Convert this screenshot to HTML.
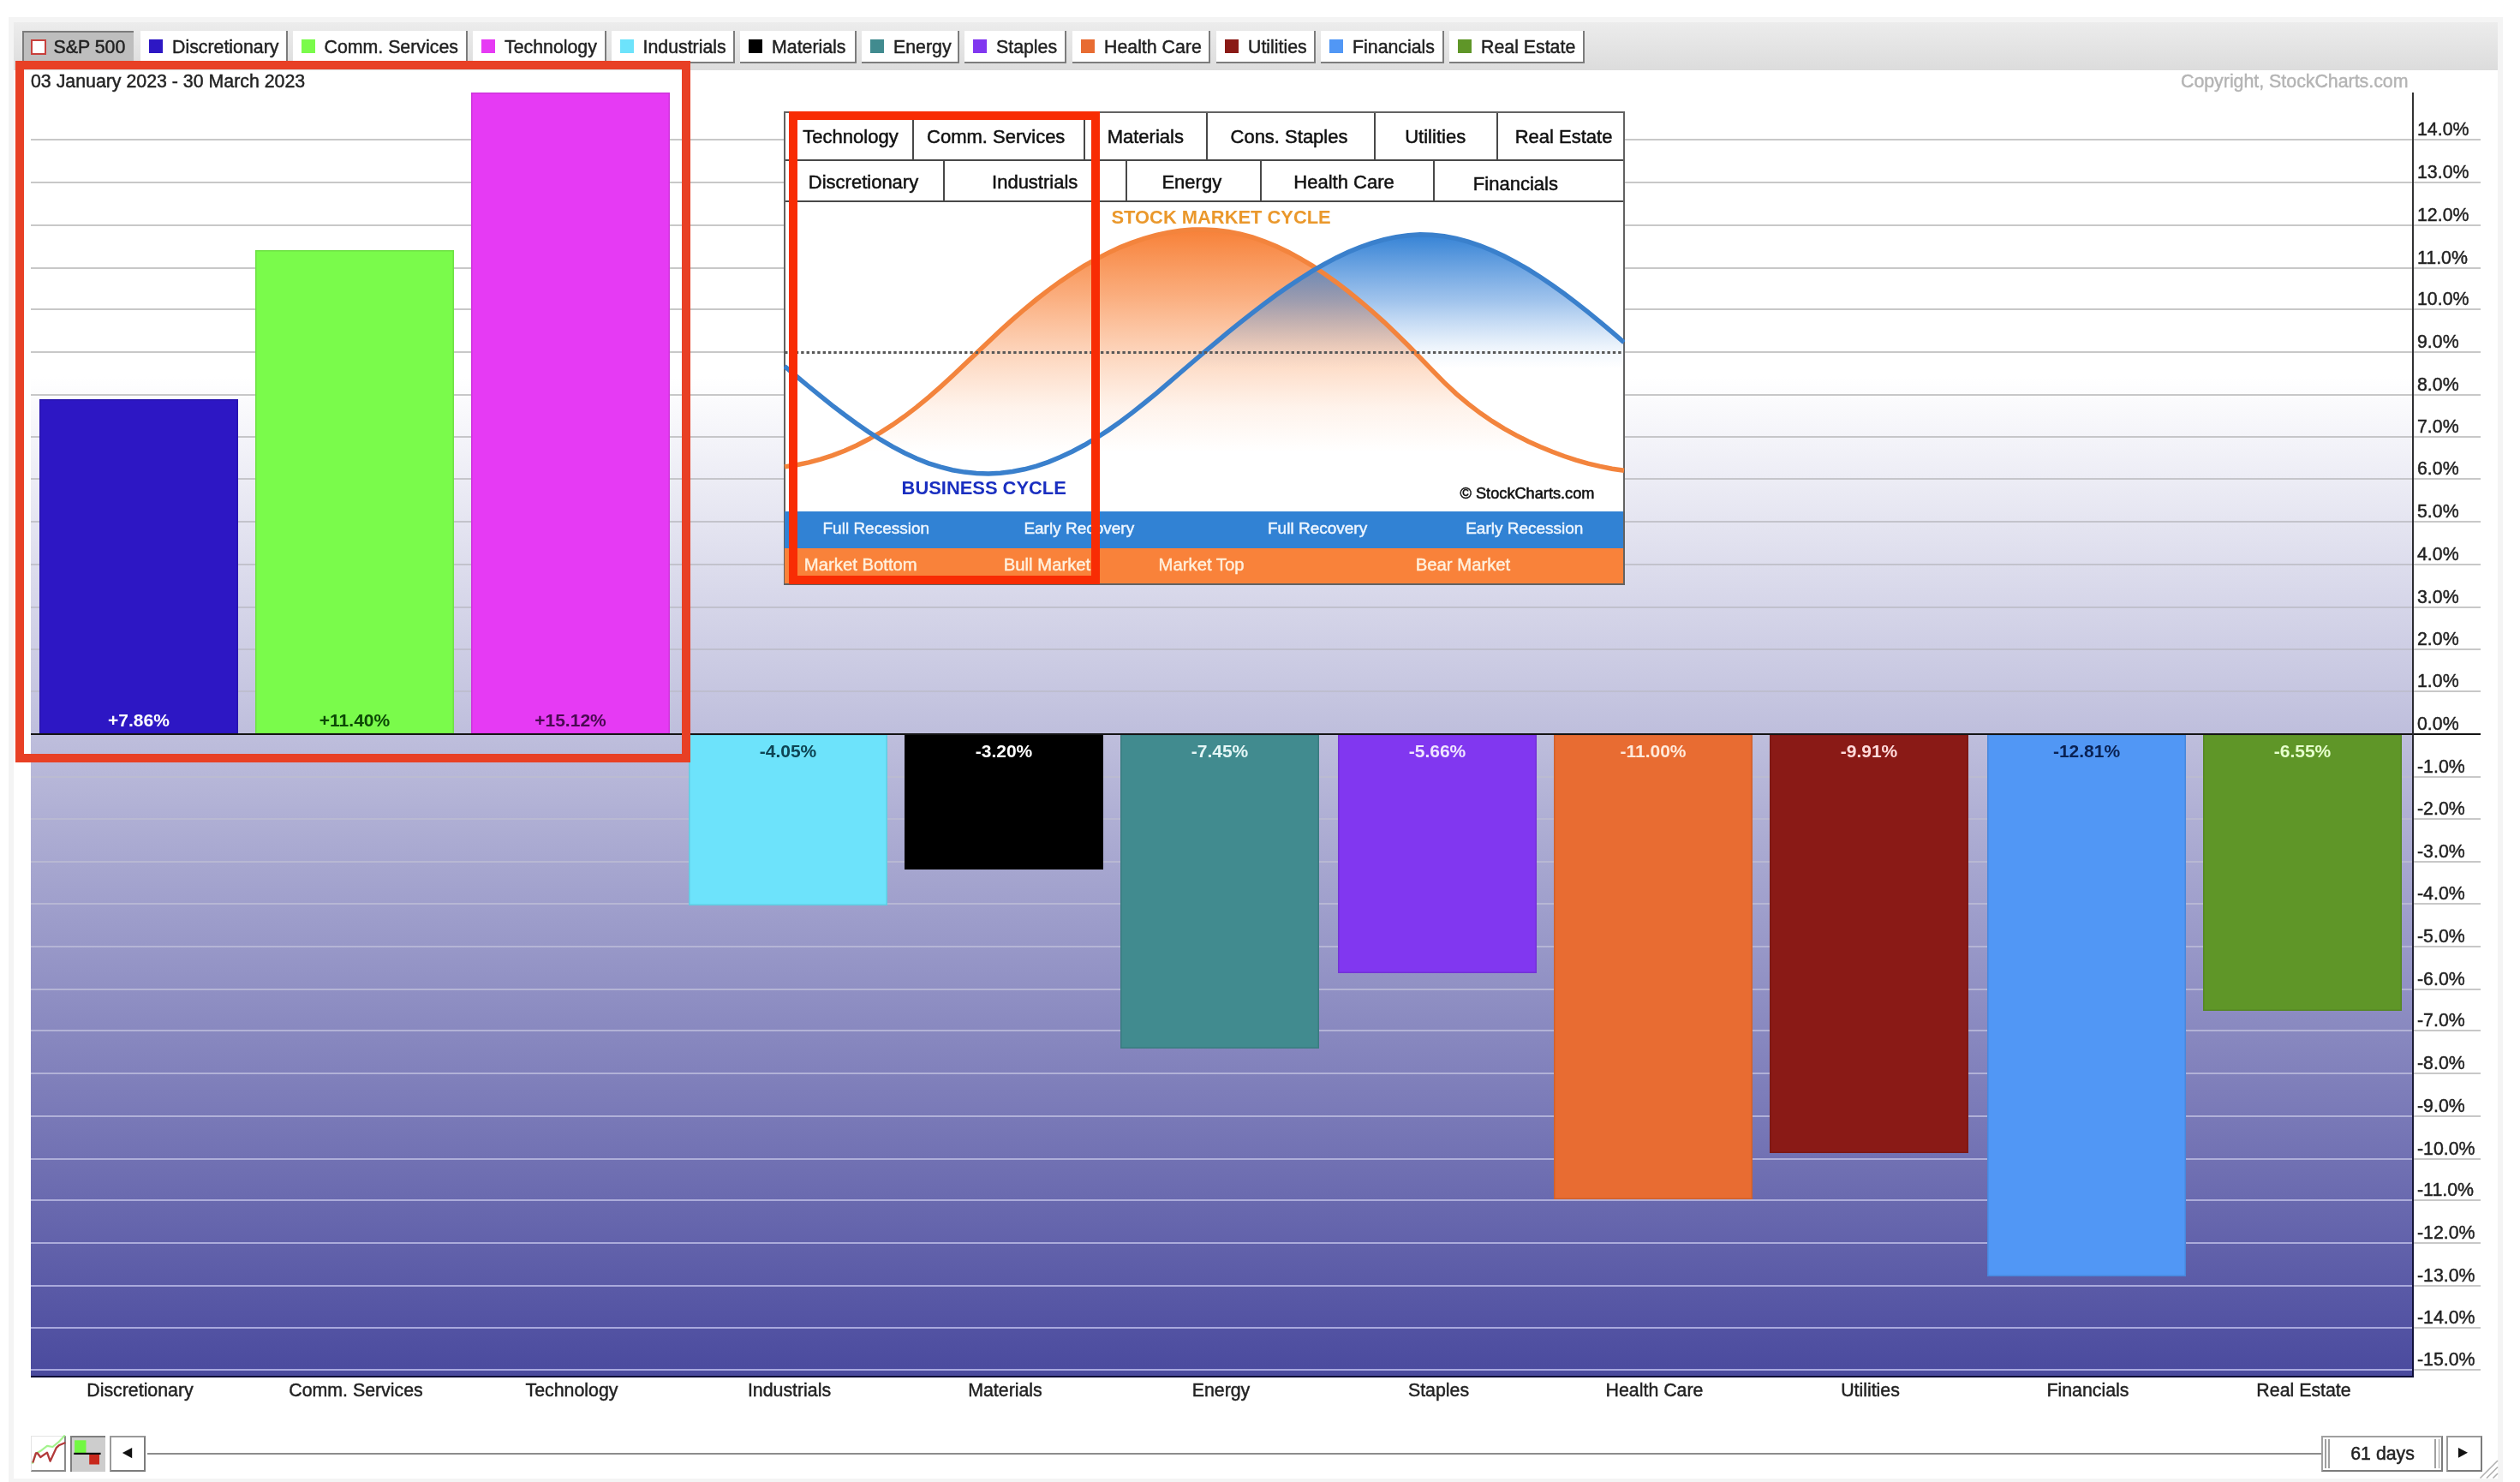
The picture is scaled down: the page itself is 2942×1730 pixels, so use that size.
<!DOCTYPE html>
<html><head><meta charset="utf-8"><title>Sector PerfChart</title>
<style>
html,body{margin:0;padding:0;background:#fff;}
html{width:2942px;height:1730px;overflow:hidden;}
body{width:2942px;height:1730px;position:relative;overflow:hidden;will-change:transform;font-family:"Liberation Sans",sans-serif;}
body>div,body>svg{position:absolute;}
.t{white-space:nowrap;-webkit-text-stroke:0.45px currentColor;}
.lb{box-sizing:border-box;}
</style></head><body>
<div style="left:10px;top:20px;width:2912px;height:1710px;box-sizing:border-box;border:6px solid #f4f4f4;border-bottom-width:4px;background:#fff"></div>
<div style="left:16px;top:26px;width:2900px;height:56px;background:linear-gradient(to bottom,#ececec,#dcdcdc);"></div>
<div class="lb" style="left:26px;top:36px;width:129.5px;height:38px;background:#bebebe;border-top:2px solid #7c7c7c;border-left:2px solid #7c7c7c;"></div>
<div style="left:36px;top:46px;width:18px;height:18px;box-sizing:border-box;border:2px solid #c8403c;background:#fff"></div>
<div class="t" style="top:45.00px;font-size:21.33px;line-height:21.33px;color:#222;left:62.5px;">S&amp;P 500</div>
<div class="lb" style="left:164px;top:36px;width:171.5px;height:38px;background:#fff;border-right:2px solid #7c7c7c;border-bottom:2px solid #7c7c7c;"></div>
<div style="left:174px;top:46px;width:16px;height:16px;background:#2d17c4;"></div>
<div class="t" style="top:45.00px;font-size:21.33px;line-height:21.33px;color:#222;left:201px;">Discretionary</div>
<div class="lb" style="left:341.5px;top:36px;width:204.5px;height:38px;background:#fff;border-right:2px solid #7c7c7c;border-bottom:2px solid #7c7c7c;"></div>
<div style="left:351.5px;top:46px;width:16px;height:16px;background:#7afb4b;"></div>
<div class="t" style="top:45.00px;font-size:21.33px;line-height:21.33px;color:#222;left:378.5px;">Comm. Services</div>
<div class="lb" style="left:552px;top:36px;width:155.5px;height:38px;background:#fff;border-right:2px solid #7c7c7c;border-bottom:2px solid #7c7c7c;"></div>
<div style="left:562px;top:46px;width:16px;height:16px;background:#e63af4;"></div>
<div class="t" style="top:45.00px;font-size:21.33px;line-height:21.33px;color:#222;left:589px;">Technology</div>
<div class="lb" style="left:713.5px;top:36px;width:144.5px;height:38px;background:#fff;border-right:2px solid #7c7c7c;border-bottom:2px solid #7c7c7c;"></div>
<div style="left:723.5px;top:46px;width:16px;height:16px;background:#6de3fb;"></div>
<div class="t" style="top:45.00px;font-size:21.33px;line-height:21.33px;color:#222;left:750.5px;">Industrials</div>
<div class="lb" style="left:864px;top:36px;width:136px;height:38px;background:#fff;border-right:2px solid #7c7c7c;border-bottom:2px solid #7c7c7c;"></div>
<div style="left:874px;top:46px;width:16px;height:16px;background:#000000;"></div>
<div class="t" style="top:45.00px;font-size:21.33px;line-height:21.33px;color:#222;left:901px;">Materials</div>
<div class="lb" style="left:1006px;top:36px;width:113.5px;height:38px;background:#fff;border-right:2px solid #7c7c7c;border-bottom:2px solid #7c7c7c;"></div>
<div style="left:1016px;top:46px;width:16px;height:16px;background:#418b8f;"></div>
<div class="t" style="top:45.00px;font-size:21.33px;line-height:21.33px;color:#222;left:1043px;">Energy</div>
<div class="lb" style="left:1126px;top:36px;width:119px;height:38px;background:#fff;border-right:2px solid #7c7c7c;border-bottom:2px solid #7c7c7c;"></div>
<div style="left:1136px;top:46px;width:16px;height:16px;background:#8137f0;"></div>
<div class="t" style="top:45.00px;font-size:21.33px;line-height:21.33px;color:#222;left:1163px;">Staples</div>
<div class="lb" style="left:1252px;top:36px;width:161px;height:38px;background:#fff;border-right:2px solid #7c7c7c;border-bottom:2px solid #7c7c7c;"></div>
<div style="left:1262px;top:46px;width:16px;height:16px;background:#e86c32;"></div>
<div class="t" style="top:45.00px;font-size:21.33px;line-height:21.33px;color:#222;left:1289px;">Health Care</div>
<div class="lb" style="left:1420px;top:36px;width:116px;height:38px;background:#fff;border-right:2px solid #7c7c7c;border-bottom:2px solid #7c7c7c;"></div>
<div style="left:1430px;top:46px;width:16px;height:16px;background:#8a1a16;"></div>
<div class="t" style="top:45.00px;font-size:21.33px;line-height:21.33px;color:#222;left:1457px;">Utilities</div>
<div class="lb" style="left:1542px;top:36px;width:144px;height:38px;background:#fff;border-right:2px solid #7c7c7c;border-bottom:2px solid #7c7c7c;"></div>
<div style="left:1552px;top:46px;width:16px;height:16px;background:#5197f5;"></div>
<div class="t" style="top:45.00px;font-size:21.33px;line-height:21.33px;color:#222;left:1579px;">Financials</div>
<div class="lb" style="left:1692px;top:36px;width:158px;height:38px;background:#fff;border-right:2px solid #7c7c7c;border-bottom:2px solid #7c7c7c;"></div>
<div style="left:1702px;top:46px;width:16px;height:16px;background:#5f9628;"></div>
<div class="t" style="top:45.00px;font-size:21.33px;line-height:21.33px;color:#222;left:1729px;">Real Estate</div>
<div class="t" style="top:85.00px;font-size:21.33px;line-height:21.33px;color:#222;left:36px;">03 January 2023 - 30 March 2023</div>
<div class="t" style="top:85.00px;font-size:21.33px;line-height:21.33px;color:#b4b4b4;right:130.5px;">Copyright, StockCharts.com</div>
<div style="left:36px;top:108px;width:2780px;height:1498px;background:linear-gradient(to bottom,#fff 0,#fff 332px,#4a4a9e 100%);"></div>
<div style="left:36px;top:1598px;width:2780px;height:2px;background:rgb(167,167,222);"></div>
<div style="left:2818px;top:1598px;width:78px;height:2px;background:#c8c8c8;"></div>
<div style="left:36px;top:1549px;width:2780px;height:2px;background:rgb(169,169,221);"></div>
<div style="left:2818px;top:1549px;width:78px;height:2px;background:#c8c8c8;"></div>
<div style="left:36px;top:1500px;width:2780px;height:2px;background:rgb(170,170,220);"></div>
<div style="left:2818px;top:1500px;width:78px;height:2px;background:#c8c8c8;"></div>
<div style="left:36px;top:1450px;width:2780px;height:2px;background:rgb(171,171,219);"></div>
<div style="left:2818px;top:1450px;width:78px;height:2px;background:#c8c8c8;"></div>
<div style="left:36px;top:1400px;width:2780px;height:2px;background:rgb(173,173,218);"></div>
<div style="left:2818px;top:1400px;width:78px;height:2px;background:#c8c8c8;"></div>
<div style="left:36px;top:1352px;width:2780px;height:2px;background:rgb(174,174,217);"></div>
<div style="left:2818px;top:1352px;width:78px;height:2px;background:#c8c8c8;"></div>
<div style="left:36px;top:1302px;width:2780px;height:2px;background:rgb(176,176,216);"></div>
<div style="left:2818px;top:1302px;width:78px;height:2px;background:#c8c8c8;"></div>
<div style="left:36px;top:1252px;width:2780px;height:2px;background:rgb(177,177,215);"></div>
<div style="left:2818px;top:1252px;width:78px;height:2px;background:#c8c8c8;"></div>
<div style="left:36px;top:1202px;width:2780px;height:2px;background:rgb(178,178,214);"></div>
<div style="left:2818px;top:1202px;width:78px;height:2px;background:#c8c8c8;"></div>
<div style="left:36px;top:1154px;width:2780px;height:2px;background:rgb(180,180,213);"></div>
<div style="left:2818px;top:1154px;width:78px;height:2px;background:#c8c8c8;"></div>
<div style="left:36px;top:1104px;width:2780px;height:2px;background:rgb(181,181,213);"></div>
<div style="left:2818px;top:1104px;width:78px;height:2px;background:#c8c8c8;"></div>
<div style="left:36px;top:1054px;width:2780px;height:2px;background:rgb(183,183,212);"></div>
<div style="left:2818px;top:1054px;width:78px;height:2px;background:#c8c8c8;"></div>
<div style="left:36px;top:1005px;width:2780px;height:2px;background:rgb(184,184,211);"></div>
<div style="left:2818px;top:1005px;width:78px;height:2px;background:#c8c8c8;"></div>
<div style="left:36px;top:955px;width:2780px;height:2px;background:rgb(185,185,210);"></div>
<div style="left:2818px;top:955px;width:78px;height:2px;background:#c8c8c8;"></div>
<div style="left:36px;top:906px;width:2780px;height:2px;background:rgb(187,187,209);"></div>
<div style="left:2818px;top:906px;width:78px;height:2px;background:#c8c8c8;"></div>
<div style="left:36px;top:806px;width:2780px;height:2px;background:rgb(190,190,207);"></div>
<div style="left:2818px;top:806px;width:78px;height:2px;background:#c8c8c8;"></div>
<div style="left:36px;top:757px;width:2780px;height:2px;background:rgb(191,191,206);"></div>
<div style="left:2818px;top:757px;width:78px;height:2px;background:#c8c8c8;"></div>
<div style="left:36px;top:708px;width:2780px;height:2px;background:rgb(192,192,205);"></div>
<div style="left:2818px;top:708px;width:78px;height:2px;background:#c8c8c8;"></div>
<div style="left:36px;top:658px;width:2780px;height:2px;background:rgb(194,194,204);"></div>
<div style="left:2818px;top:658px;width:78px;height:2px;background:#c8c8c8;"></div>
<div style="left:36px;top:608px;width:2780px;height:2px;background:rgb(195,195,203);"></div>
<div style="left:2818px;top:608px;width:78px;height:2px;background:#c8c8c8;"></div>
<div style="left:36px;top:558px;width:2780px;height:2px;background:rgb(197,197,202);"></div>
<div style="left:2818px;top:558px;width:78px;height:2px;background:#c8c8c8;"></div>
<div style="left:36px;top:509px;width:2780px;height:2px;background:rgb(198,198,201);"></div>
<div style="left:2818px;top:509px;width:78px;height:2px;background:#c8c8c8;"></div>
<div style="left:36px;top:460px;width:2780px;height:2px;background:rgb(199,199,200);"></div>
<div style="left:2818px;top:460px;width:78px;height:2px;background:#c8c8c8;"></div>
<div style="left:36px;top:410px;width:2780px;height:2px;background:rgb(200,200,200);"></div>
<div style="left:2818px;top:410px;width:78px;height:2px;background:#c8c8c8;"></div>
<div style="left:36px;top:360px;width:2780px;height:2px;background:rgb(200,200,200);"></div>
<div style="left:2818px;top:360px;width:78px;height:2px;background:#c8c8c8;"></div>
<div style="left:36px;top:312px;width:2780px;height:2px;background:rgb(200,200,200);"></div>
<div style="left:2818px;top:312px;width:78px;height:2px;background:#c8c8c8;"></div>
<div style="left:36px;top:262px;width:2780px;height:2px;background:rgb(200,200,200);"></div>
<div style="left:2818px;top:262px;width:78px;height:2px;background:#c8c8c8;"></div>
<div style="left:36px;top:212px;width:2780px;height:2px;background:rgb(200,200,200);"></div>
<div style="left:2818px;top:212px;width:78px;height:2px;background:#c8c8c8;"></div>
<div style="left:36px;top:162px;width:2780px;height:2px;background:rgb(200,200,200);"></div>
<div style="left:2818px;top:162px;width:78px;height:2px;background:#c8c8c8;"></div>
<div style="left:46px;top:466px;width:232px;height:391px;background:#2d17c4;box-shadow:inset 0 0 0 1.5px rgba(0,0,0,.10);"></div>
<div class="t" style="top:830.00px;font-size:21px;line-height:21px;color:#ffffff;font-weight:bold;left:162px;transform:translateX(-50%);-webkit-text-stroke:0;">+7.86%</div>
<div class="t" style="top:1613.00px;font-size:21.33px;line-height:21.33px;color:#222;left:163.5px;transform:translateX(-50%);">Discretionary</div>
<div style="left:298px;top:292px;width:232px;height:565px;background:#7afb4b;box-shadow:inset 0 0 0 1.5px rgba(0,0,0,.10);"></div>
<div class="t" style="top:830.00px;font-size:21px;line-height:21px;color:#0c4a05;font-weight:bold;left:414px;transform:translateX(-50%);-webkit-text-stroke:0;">+11.40%</div>
<div class="t" style="top:1613.00px;font-size:21.33px;line-height:21.33px;color:#222;left:415.5px;transform:translateX(-50%);">Comm. Services</div>
<div style="left:550px;top:108px;width:232px;height:749px;background:#e63af4;box-shadow:inset 0 0 0 1.5px rgba(0,0,0,.10);"></div>
<div class="t" style="top:830.00px;font-size:21px;line-height:21px;color:#4a0a52;font-weight:bold;left:666px;transform:translateX(-50%);-webkit-text-stroke:0;">+15.12%</div>
<div class="t" style="top:1613.00px;font-size:21.33px;line-height:21.33px;color:#222;left:667.5px;transform:translateX(-50%);">Technology</div>
<div style="left:804px;top:857px;width:232px;height:200px;background:#6de3fb;box-shadow:inset 0 0 0 1.5px rgba(0,0,0,.10);"></div>
<div class="t" style="top:866.00px;font-size:21px;line-height:21px;color:#0e4454;font-weight:bold;left:920px;transform:translateX(-50%);-webkit-text-stroke:0;">-4.05%</div>
<div class="t" style="top:1613.00px;font-size:21.33px;line-height:21.33px;color:#222;left:921.5px;transform:translateX(-50%);">Industrials</div>
<div style="left:1056px;top:857px;width:232px;height:158px;background:#000000;box-shadow:inset 0 0 0 1.5px rgba(0,0,0,.10);"></div>
<div class="t" style="top:866.00px;font-size:21px;line-height:21px;color:#ffffff;font-weight:bold;left:1172px;transform:translateX(-50%);-webkit-text-stroke:0;">-3.20%</div>
<div class="t" style="top:1613.00px;font-size:21.33px;line-height:21.33px;color:#222;left:1173.5px;transform:translateX(-50%);">Materials</div>
<div style="left:1308px;top:857px;width:232px;height:367px;background:#418b8f;box-shadow:inset 0 0 0 1.5px rgba(0,0,0,.10);"></div>
<div class="t" style="top:866.00px;font-size:21px;line-height:21px;color:#e4f6f6;font-weight:bold;left:1424px;transform:translateX(-50%);-webkit-text-stroke:0;">-7.45%</div>
<div class="t" style="top:1613.00px;font-size:21.33px;line-height:21.33px;color:#222;left:1425.5px;transform:translateX(-50%);">Energy</div>
<div style="left:1562px;top:857px;width:232px;height:279px;background:#8137f0;box-shadow:inset 0 0 0 1.5px rgba(0,0,0,.10);"></div>
<div class="t" style="top:866.00px;font-size:21px;line-height:21px;color:#efe4ff;font-weight:bold;left:1678px;transform:translateX(-50%);-webkit-text-stroke:0;">-5.66%</div>
<div class="t" style="top:1613.00px;font-size:21.33px;line-height:21.33px;color:#222;left:1679.5px;transform:translateX(-50%);">Staples</div>
<div style="left:1814px;top:857px;width:232px;height:543px;background:#e86c32;box-shadow:inset 0 0 0 1.5px rgba(0,0,0,.10);"></div>
<div class="t" style="top:866.00px;font-size:21px;line-height:21px;color:#ffe9da;font-weight:bold;left:1930px;transform:translateX(-50%);-webkit-text-stroke:0;">-11.00%</div>
<div class="t" style="top:1613.00px;font-size:21.33px;line-height:21.33px;color:#222;left:1931.5px;transform:translateX(-50%);">Health Care</div>
<div style="left:2066px;top:857px;width:232px;height:489px;background:#8a1a16;box-shadow:inset 0 0 0 1.5px rgba(0,0,0,.10);"></div>
<div class="t" style="top:866.00px;font-size:21px;line-height:21px;color:#ffdada;font-weight:bold;left:2182px;transform:translateX(-50%);-webkit-text-stroke:0;">-9.91%</div>
<div class="t" style="top:1613.00px;font-size:21.33px;line-height:21.33px;color:#222;left:2183.5px;transform:translateX(-50%);">Utilities</div>
<div style="left:2320px;top:857px;width:232px;height:633px;background:#5197f5;box-shadow:inset 0 0 0 1.5px rgba(0,0,0,.10);"></div>
<div class="t" style="top:866.00px;font-size:21px;line-height:21px;color:#0a2254;font-weight:bold;left:2436px;transform:translateX(-50%);-webkit-text-stroke:0;">-12.81%</div>
<div class="t" style="top:1613.00px;font-size:21.33px;line-height:21.33px;color:#222;left:2437.5px;transform:translateX(-50%);">Financials</div>
<div style="left:2572px;top:857px;width:232px;height:323px;background:#5f9628;box-shadow:inset 0 0 0 1.5px rgba(0,0,0,.10);"></div>
<div class="t" style="top:866.00px;font-size:21px;line-height:21px;color:#e6ffcc;font-weight:bold;left:2688px;transform:translateX(-50%);-webkit-text-stroke:0;">-6.55%</div>
<div class="t" style="top:1613.00px;font-size:21.33px;line-height:21.33px;color:#222;left:2689.5px;transform:translateX(-50%);">Real Estate</div>
<div style="left:36px;top:856px;width:2860px;height:2px;background:#141414;"></div>
<div style="left:2816px;top:108px;width:2px;height:1500px;background:linear-gradient(to bottom,#333 0,#2a2a30 50%,#10103a 100%);"></div>
<div style="left:36px;top:1606px;width:2782px;height:2px;background:#0e0e36;"></div>
<div class="t" style="top:1577.00px;font-size:21.33px;line-height:21.33px;color:#222;left:2822px;">-15.0%</div>
<div class="t" style="top:1528.00px;font-size:21.33px;line-height:21.33px;color:#222;left:2822px;">-14.0%</div>
<div class="t" style="top:1479.00px;font-size:21.33px;line-height:21.33px;color:#222;left:2822px;">-13.0%</div>
<div class="t" style="top:1429.00px;font-size:21.33px;line-height:21.33px;color:#222;left:2822px;">-12.0%</div>
<div class="t" style="top:1379.00px;font-size:21.33px;line-height:21.33px;color:#222;left:2822px;">-11.0%</div>
<div class="t" style="top:1331.00px;font-size:21.33px;line-height:21.33px;color:#222;left:2822px;">-10.0%</div>
<div class="t" style="top:1281.00px;font-size:21.33px;line-height:21.33px;color:#222;left:2822px;">-9.0%</div>
<div class="t" style="top:1231.00px;font-size:21.33px;line-height:21.33px;color:#222;left:2822px;">-8.0%</div>
<div class="t" style="top:1181.00px;font-size:21.33px;line-height:21.33px;color:#222;left:2822px;">-7.0%</div>
<div class="t" style="top:1133.00px;font-size:21.33px;line-height:21.33px;color:#222;left:2822px;">-6.0%</div>
<div class="t" style="top:1083.00px;font-size:21.33px;line-height:21.33px;color:#222;left:2822px;">-5.0%</div>
<div class="t" style="top:1033.00px;font-size:21.33px;line-height:21.33px;color:#222;left:2822px;">-4.0%</div>
<div class="t" style="top:984.00px;font-size:21.33px;line-height:21.33px;color:#222;left:2822px;">-3.0%</div>
<div class="t" style="top:934.00px;font-size:21.33px;line-height:21.33px;color:#222;left:2822px;">-2.0%</div>
<div class="t" style="top:885.00px;font-size:21.33px;line-height:21.33px;color:#222;left:2822px;">-1.0%</div>
<div class="t" style="top:835.00px;font-size:21.33px;line-height:21.33px;color:#222;left:2822px;">0.0%</div>
<div class="t" style="top:785.00px;font-size:21.33px;line-height:21.33px;color:#222;left:2822px;">1.0%</div>
<div class="t" style="top:736.00px;font-size:21.33px;line-height:21.33px;color:#222;left:2822px;">2.0%</div>
<div class="t" style="top:687.00px;font-size:21.33px;line-height:21.33px;color:#222;left:2822px;">3.0%</div>
<div class="t" style="top:637.00px;font-size:21.33px;line-height:21.33px;color:#222;left:2822px;">4.0%</div>
<div class="t" style="top:587.00px;font-size:21.33px;line-height:21.33px;color:#222;left:2822px;">5.0%</div>
<div class="t" style="top:537.00px;font-size:21.33px;line-height:21.33px;color:#222;left:2822px;">6.0%</div>
<div class="t" style="top:488.00px;font-size:21.33px;line-height:21.33px;color:#222;left:2822px;">7.0%</div>
<div class="t" style="top:439.00px;font-size:21.33px;line-height:21.33px;color:#222;left:2822px;">8.0%</div>
<div class="t" style="top:389.00px;font-size:21.33px;line-height:21.33px;color:#222;left:2822px;">9.0%</div>
<div class="t" style="top:339.00px;font-size:21.33px;line-height:21.33px;color:#222;left:2822px;">10.0%</div>
<div class="t" style="top:291.00px;font-size:21.33px;line-height:21.33px;color:#222;left:2822px;">11.0%</div>
<div class="t" style="top:241.00px;font-size:21.33px;line-height:21.33px;color:#222;left:2822px;">12.0%</div>
<div class="t" style="top:191.00px;font-size:21.33px;line-height:21.33px;color:#222;left:2822px;">13.0%</div>
<div class="t" style="top:141.00px;font-size:21.33px;line-height:21.33px;color:#222;left:2822px;">14.0%</div>
<div class="lb" style="left:36px;top:1676px;width:41.4px;height:42px;background:#fff;border-right:2px solid #8a8a8a;border-bottom:2px solid #8a8a8a;border-top:1px solid #e4e4e4;border-left:1px solid #e4e4e4"></div>
<div class="lb" style="left:82px;top:1676px;width:41.3px;height:42px;background:#cdcdcd;border-top:2px solid #7f7f7f;border-left:2px solid #7f7f7f;"></div>
<div class="lb" style="left:128.3px;top:1676px;width:41.4px;height:42px;background:#fff;border:2px solid #9a9a9a;border-right-color:#7c7c7c;border-bottom-color:#7c7c7c"></div>
<div style="left:172px;top:1696px;width:2539px;height:2px;background:#8c8c8c;"></div>
<div class="lb" style="left:2710.4px;top:1676px;width:141.3px;height:42px;background:#fff;border:2px solid #a0a0a0;border-right-color:#7c7c7c;border-bottom-color:#7c7c7c"></div>
<div style="left:2714.2px;top:1680px;width:1.4px;height:34px;background:#a0a0a0;"></div>
<div style="left:2718.4px;top:1680px;width:1.4px;height:34px;background:#a0a0a0;"></div>
<div style="left:2842.4px;top:1680px;width:1.4px;height:34px;background:#a0a0a0;"></div>
<div style="left:2846.8px;top:1680px;width:1.4px;height:34px;background:#a0a0a0;"></div>
<div class="t" style="top:1687.00px;font-size:21.33px;line-height:21.33px;color:#222;left:2781.6px;transform:translateX(-50%);">61 days</div>
<div class="lb" style="left:2856.3px;top:1676px;width:41.3px;height:42px;background:#fff;border:2px solid #9a9a9a;border-right-color:#7c7c7c;border-bottom-color:#7c7c7c"></div>
<svg style="left:0;top:1660px" width="2942" height="70" viewBox="0 1660 2942 70">
<polyline points="37.7,1708.7 41.9,1696.8 47.3,1693.8 55,1687.9 61.5,1689 68.1,1683.7 75.8,1675.4" fill="none" stroke="#8cf070" stroke-opacity="0.8" stroke-width="2.2" stroke-linejoin="round"/>
<polyline points="38.3,1707.5 41.9,1696.4 43.6,1696.2 47.3,1701 55,1695.6 58.6,1705.7 65.7,1690.2 68.7,1687.3 76.4,1684" fill="none" stroke="#b23a3a" stroke-width="2.3" stroke-linejoin="round"/>
<rect x="87.1" y="1681.3" width="13.4" height="14.7" fill="#72f842"/>
<rect x="86.2" y="1695.8" width="31.4" height="2.2" fill="#111"/>
<rect x="104.2" y="1698" width="11.8" height="11.5" fill="#c8281c"/>
<polygon points="142.9,1696.1 154.2,1689.9 154.2,1702.3" fill="#111"/>
<polygon points="2881,1695.8 2870,1690 2870,1701.7" fill="#111"/>
<g stroke="#b0b0b0" stroke-width="1.6">
<line x1="2895.5" y1="1725.5" x2="2916" y2="1705"/>
<line x1="2903" y1="1725.5" x2="2916" y2="1712.5"/>
<line x1="2910.5" y1="1725.5" x2="2916" y2="1720"/>
</g>
</svg>
<div style="left:18px;top:71px;width:788px;height:819px;box-sizing:border-box;border:10px solid #e84025;"></div>
<div style="left:915px;top:130px;width:982px;height:553px;box-sizing:border-box;border:2px solid #626262;background:#fff"></div>
<svg style="left:915px;top:130px" width="982" height="553" viewBox="915 130 982 553">
<defs>
<linearGradient id="go" gradientUnits="userSpaceOnUse" x1="0" y1="267.9" x2="0" y2="528">
<stop offset="0" stop-color="#f77d32" stop-opacity="0.97"/><stop offset="0.3" stop-color="#f8843c" stop-opacity="0.66"/><stop offset="0.56" stop-color="#f98c48" stop-opacity="0.36"/><stop offset="0.8" stop-color="#fb9a5a" stop-opacity="0.12"/><stop offset="1" stop-color="#fb9a5a" stop-opacity="0"/>
</linearGradient>
<linearGradient id="gb" gradientUnits="userSpaceOnUse" x1="0" y1="273.8" x2="0" y2="430">
<stop offset="0" stop-color="#2f7fd4" stop-opacity="0.97"/><stop offset="0.5" stop-color="#4389da" stop-opacity="0.5"/><stop offset="0.85" stop-color="#5a9ae2" stop-opacity="0.1"/><stop offset="1" stop-color="#6aa5e6" stop-opacity="0"/>
</linearGradient>
</defs>
<path d="M916.0,544.9 L930.0,542.8 L944.0,539.9 L958.0,536.2 L972.0,531.6 L986.0,526.2 L1000.0,519.9 L1014.0,512.8 L1028.0,504.8 L1042.0,495.9 L1056.0,486.1 L1070.0,475.4 L1084.0,463.9 L1098.0,451.6 L1112.0,438.8 L1126.0,425.6 L1140.0,412.3 L1154.0,398.9 L1168.0,385.8 L1182.0,373.1 L1196.0,361.0 L1210.0,349.5 L1224.0,338.6 L1238.0,328.4 L1252.0,319.0 L1266.0,310.2 L1280.0,302.3 L1294.0,295.1 L1308.0,288.6 L1322.0,283.1 L1336.0,278.3 L1350.0,274.4 L1364.0,271.4 L1378.0,269.3 L1392.0,268.1 L1406.0,267.9 L1420.0,268.7 L1434.0,270.4 L1448.0,273.2 L1462.0,277.0 L1476.0,281.8 L1490.0,287.5 L1504.0,294.2 L1518.0,301.8 L1532.0,310.2 L1546.0,319.4 L1560.0,329.4 L1574.0,340.1 L1588.0,351.5 L1602.0,363.5 L1616.0,376.1 L1630.0,389.4 L1644.0,403.2 L1658.0,417.6 L1672.0,432.2 L1686.0,446.4 L1700.0,459.6 L1714.0,471.4 L1728.0,482.1 L1742.0,491.7 L1756.0,500.4 L1770.0,508.1 L1784.0,515.2 L1798.0,521.5 L1812.0,527.3 L1826.0,532.5 L1840.0,537.1 L1854.0,541.1 L1868.0,544.4 L1882.0,547.2 L1896.0,549.3 L1895,597 L917,597 Z" fill="url(#go)"/>
<path d="M916.0,427.6 L930.0,439.4 L944.0,451.0 L958.0,462.4 L972.0,473.6 L986.0,484.3 L1000.0,494.5 L1014.0,504.2 L1028.0,513.2 L1042.0,521.4 L1056.0,528.8 L1070.0,535.3 L1084.0,540.8 L1098.0,545.2 L1112.0,548.7 L1126.0,551.1 L1140.0,552.5 L1154.0,552.9 L1168.0,552.2 L1182.0,550.5 L1196.0,547.8 L1210.0,544.1 L1224.0,539.3 L1238.0,533.6 L1252.0,527.0 L1266.0,519.5 L1280.0,511.2 L1294.0,502.1 L1308.0,492.3 L1322.0,481.7 L1336.0,470.5 L1350.0,459.0 L1364.0,447.1 L1378.0,435.0 L1392.0,423.0 L1406.0,411.0 L1420.0,399.3 L1434.0,387.7 L1448.0,376.4 L1462.0,365.3 L1476.0,354.6 L1490.0,344.3 L1504.0,334.5 L1518.0,325.2 L1532.0,316.4 L1546.0,308.3 L1560.0,300.9 L1574.0,294.3 L1588.0,288.5 L1602.0,283.6 L1616.0,279.6 L1630.0,276.6 L1644.0,274.7 L1658.0,273.8 L1672.0,274.2 L1686.0,275.7 L1700.0,278.4 L1714.0,282.1 L1728.0,286.8 L1742.0,292.4 L1756.0,299.0 L1770.0,306.3 L1784.0,314.4 L1798.0,323.2 L1812.0,332.7 L1826.0,342.7 L1840.0,353.3 L1854.0,364.4 L1868.0,375.8 L1882.0,387.6 L1896.0,399.7 L1895,597 L917,597 Z" fill="url(#gb)"/>
<path d="M916.0,544.9 L930.0,542.8 L944.0,539.9 L958.0,536.2 L972.0,531.6 L986.0,526.2 L1000.0,519.9 L1014.0,512.8 L1028.0,504.8 L1042.0,495.9 L1056.0,486.1 L1070.0,475.4 L1084.0,463.9 L1098.0,451.6 L1112.0,438.8 L1126.0,425.6 L1140.0,412.3 L1154.0,398.9 L1168.0,385.8 L1182.0,373.1 L1196.0,361.0 L1210.0,349.5 L1224.0,338.6 L1238.0,328.4 L1252.0,319.0 L1266.0,310.2 L1280.0,302.3 L1294.0,295.1 L1308.0,288.6 L1322.0,283.1 L1336.0,278.3 L1350.0,274.4 L1364.0,271.4 L1378.0,269.3 L1392.0,268.1 L1406.0,267.9 L1420.0,268.7 L1434.0,270.4 L1448.0,273.2 L1462.0,277.0 L1476.0,281.8 L1490.0,287.5 L1504.0,294.2 L1518.0,301.8 L1532.0,310.2 L1546.0,319.4 L1560.0,329.4 L1574.0,340.1 L1588.0,351.5 L1602.0,363.5 L1616.0,376.1 L1630.0,389.4 L1644.0,403.2 L1658.0,417.6 L1672.0,432.2 L1686.0,446.4 L1700.0,459.6 L1714.0,471.4 L1728.0,482.1 L1742.0,491.7 L1756.0,500.4 L1770.0,508.1 L1784.0,515.2 L1798.0,521.5 L1812.0,527.3 L1826.0,532.5 L1840.0,537.1 L1854.0,541.1 L1868.0,544.4 L1882.0,547.2 L1896.0,549.3" fill="none" stroke="#f3843d" stroke-width="5.5"/>
<path d="M916.0,427.6 L930.0,439.4 L944.0,451.0 L958.0,462.4 L972.0,473.6 L986.0,484.3 L1000.0,494.5 L1014.0,504.2 L1028.0,513.2 L1042.0,521.4 L1056.0,528.8 L1070.0,535.3 L1084.0,540.8 L1098.0,545.2 L1112.0,548.7 L1126.0,551.1 L1140.0,552.5 L1154.0,552.9 L1168.0,552.2 L1182.0,550.5 L1196.0,547.8 L1210.0,544.1 L1224.0,539.3 L1238.0,533.6 L1252.0,527.0 L1266.0,519.5 L1280.0,511.2 L1294.0,502.1 L1308.0,492.3 L1322.0,481.7 L1336.0,470.5 L1350.0,459.0 L1364.0,447.1 L1378.0,435.0 L1392.0,423.0 L1406.0,411.0 L1420.0,399.3 L1434.0,387.7 L1448.0,376.4 L1462.0,365.3 L1476.0,354.6 L1490.0,344.3 L1504.0,334.5 L1518.0,325.2 L1532.0,316.4 L1546.0,308.3 L1560.0,300.9 L1574.0,294.3 L1588.0,288.5 L1602.0,283.6 L1616.0,279.6 L1630.0,276.6 L1644.0,274.7 L1658.0,273.8 L1672.0,274.2 L1686.0,275.7 L1700.0,278.4 L1714.0,282.1 L1728.0,286.8 L1742.0,292.4 L1756.0,299.0 L1770.0,306.3 L1784.0,314.4 L1798.0,323.2 L1812.0,332.7 L1826.0,342.7 L1840.0,353.3 L1854.0,364.4 L1868.0,375.8 L1882.0,387.6 L1896.0,399.7" fill="none" stroke="#3a80cc" stroke-width="5.5"/>
<line x1="916.1" y1="411.6" x2="1895" y2="411.6" stroke="#585858" stroke-width="3" stroke-dasharray="3.4 2.96"/>
</svg>
<div style="left:917px;top:185.5px;width:978px;height:2px;background:#484848;"></div>
<div style="left:917px;top:234px;width:978px;height:2px;background:#484848;"></div>
<div style="left:1064.5px;top:132px;width:2px;height:54px;background:#484848;"></div>
<div style="left:1265.4px;top:132px;width:2px;height:54px;background:#484848;"></div>
<div style="left:1408px;top:132px;width:2px;height:54px;background:#484848;"></div>
<div style="left:1603.5px;top:132px;width:2px;height:54px;background:#484848;"></div>
<div style="left:1746.8px;top:132px;width:2px;height:54px;background:#484848;"></div>
<div style="left:1100.6px;top:187px;width:2px;height:48px;background:#484848;"></div>
<div style="left:1314px;top:187px;width:2px;height:48px;background:#484848;"></div>
<div style="left:1471px;top:187px;width:2px;height:48px;background:#484848;"></div>
<div style="left:1672.7px;top:187px;width:2px;height:48px;background:#484848;"></div>
<div class="t" style="top:149.00px;font-size:22px;line-height:22px;color:#111;left:993px;transform:translateX(-50%);-webkit-text-stroke:0.5px #111;">Technology</div>
<div class="t" style="top:149.00px;font-size:22px;line-height:22px;color:#111;left:1162.7px;transform:translateX(-50%);-webkit-text-stroke:0.5px #111;">Comm. Services</div>
<div class="t" style="top:149.00px;font-size:22px;line-height:22px;color:#111;left:1337.3px;transform:translateX(-50%);-webkit-text-stroke:0.5px #111;">Materials</div>
<div class="t" style="top:149.00px;font-size:22px;line-height:22px;color:#111;left:1505px;transform:translateX(-50%);-webkit-text-stroke:0.5px #111;">Cons. Staples</div>
<div class="t" style="top:149.00px;font-size:22px;line-height:22px;color:#111;left:1675.7px;transform:translateX(-50%);-webkit-text-stroke:0.5px #111;">Utilities</div>
<div class="t" style="top:149.00px;font-size:22px;line-height:22px;color:#111;left:1825.5px;transform:translateX(-50%);-webkit-text-stroke:0.5px #111;">Real Estate</div>
<div class="t" style="top:202.00px;font-size:22px;line-height:22px;color:#111;left:1008px;transform:translateX(-50%);-webkit-text-stroke:0.5px #111;">Discretionary</div>
<div class="t" style="top:202.00px;font-size:22px;line-height:22px;color:#111;left:1208.2px;transform:translateX(-50%);-webkit-text-stroke:0.5px #111;">Industrials</div>
<div class="t" style="top:202.00px;font-size:22px;line-height:22px;color:#111;left:1391.3px;transform:translateX(-50%);-webkit-text-stroke:0.5px #111;">Energy</div>
<div class="t" style="top:202.00px;font-size:22px;line-height:22px;color:#111;left:1569px;transform:translateX(-50%);-webkit-text-stroke:0.5px #111;">Health Care</div>
<div class="t" style="top:204.00px;font-size:22px;line-height:22px;color:#111;left:1769.4px;transform:translateX(-50%);-webkit-text-stroke:0.5px #111;">Financials</div>
<div class="t" style="top:243.00px;font-size:21.9px;line-height:21.9px;color:#ea982c;font-weight:bold;left:1425.6px;transform:translateX(-50%);-webkit-text-stroke:0;">STOCK MARKET CYCLE</div>
<div class="t" style="top:559.00px;font-size:21.9px;line-height:21.9px;color:#1a2fc0;font-weight:bold;left:1148.7px;transform:translateX(-50%);-webkit-text-stroke:0;">BUSINESS CYCLE</div>
<div class="t" style="top:567.00px;font-size:18.2px;line-height:18.2px;color:#111;left:1783px;transform:translateX(-50%);-webkit-text-stroke:0.55px #111;">© StockCharts.com</div>
<div style="left:916px;top:597.3px;width:979px;height:42.5px;background:#3182d4;"></div>
<div style="left:916px;top:639.8px;width:979px;height:41.2px;background:#f9823a;"></div>
<div class="t" style="top:607.00px;font-size:19px;line-height:19px;color:#eef6ff;left:1022.8px;transform:translateX(-50%);-webkit-text-stroke:0.45px #eef6ff;">Full Recession</div>
<div class="t" style="top:607.00px;font-size:19px;line-height:19px;color:#eef6ff;left:1259.8px;transform:translateX(-50%);-webkit-text-stroke:0.45px #eef6ff;">Early Recovery</div>
<div class="t" style="top:607.00px;font-size:19px;line-height:19px;color:#eef6ff;left:1538.1px;transform:translateX(-50%);-webkit-text-stroke:0.45px #eef6ff;">Full Recovery</div>
<div class="t" style="top:607.00px;font-size:19px;line-height:19px;color:#eef6ff;left:1779.8px;transform:translateX(-50%);-webkit-text-stroke:0.45px #eef6ff;">Early Recession</div>
<div class="t" style="top:649.00px;font-size:20.3px;line-height:20.3px;color:#fff0dc;left:1004.8px;transform:translateX(-50%);-webkit-text-stroke:0.45px #fff0dc;">Market Bottom</div>
<div class="t" style="top:649.00px;font-size:20.3px;line-height:20.3px;color:#fff0dc;left:1222.5px;transform:translateX(-50%);-webkit-text-stroke:0.45px #fff0dc;">Bull Market</div>
<div class="t" style="top:649.00px;font-size:20.3px;line-height:20.3px;color:#fff0dc;left:1402.6px;transform:translateX(-50%);-webkit-text-stroke:0.45px #fff0dc;">Market Top</div>
<div class="t" style="top:649.00px;font-size:20.3px;line-height:20.3px;color:#fff0dc;left:1708px;transform:translateX(-50%);-webkit-text-stroke:0.45px #fff0dc;">Bear Market</div>
<div style="left:921px;top:130px;width:363px;height:552px;box-sizing:border-box;border:10px solid #f82c04;"></div>
</body></html>
